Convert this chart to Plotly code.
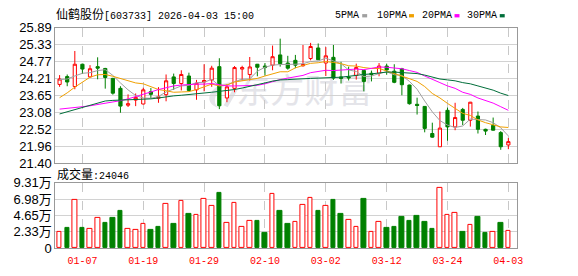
import plotly.graph_objects as go

# ---------------- data ----------------
dates = ["12-31", "01-05", "01-06", "01-07", "01-08", "01-09", "01-12", "01-13", "01-14", "01-15",
         "01-16", "01-19", "01-20", "01-21", "01-22", "01-23", "01-26", "01-27", "01-28", "01-29",
         "01-30", "02-02", "02-03", "02-04", "02-05", "02-06", "02-09", "02-10", "02-11", "02-12",
         "02-13", "02-24", "02-25", "02-26", "02-27", "03-02", "03-03", "03-04", "03-05", "03-06",
         "03-09", "03-10", "03-11", "03-12", "03-13", "03-16", "03-17", "03-18", "03-19", "03-20",
         "03-23", "03-24", "03-25", "03-26", "03-27", "03-30", "03-31", "04-01", "04-02", "04-03"]

open_ = [24.01, 24.27, 23.94, 24.68, 24.26, 24.60, 24.54, 24.21, 23.88, 23.32,
         23.49, 23.36, 23.77, 23.55, 23.67, 24.26, 24.04, 24.29, 23.83, 24.09,
         24.16, 24.60, 23.56, 23.88, 24.52, 24.34, 24.68, 24.62, 24.65, 24.99,
         24.72, 24.81, 24.63, 24.87, 25.22, 24.72, 24.91, 24.26, 24.26, 24.31,
         24.47, 24.38, 24.38, 24.62, 24.45, 24.53, 23.99, 23.35, 23.28, 22.38,
         21.94, 23.15, 22.60, 23.18, 22.82, 22.96, 22.52, 22.65, 22.41, 22.00]
high = [24.32, 24.34, 25.12, 24.70, 24.65, 24.91, 24.56, 24.23, 23.95, 23.68,
        23.71, 23.90, 23.89, 23.92, 24.34, 24.37, 24.48, 24.40, 24.16, 24.68,
        24.63, 24.88, 24.02, 24.62, 24.63, 24.92, 24.69, 24.72, 25.30, 25.53,
        24.96, 24.99, 25.32, 25.39, 25.37, 25.25, 25.32, 24.76, 24.60, 24.70,
        24.50, 24.47, 24.72, 24.70, 24.68, 24.56, 24.00, 23.57, 23.29, 22.74,
        23.11, 23.24, 23.40, 23.23, 23.43, 23.11, 22.54, 22.91, 22.46, 22.23]
low = [23.93, 23.95, 23.85, 24.36, 24.24, 24.18, 23.87, 23.67, 23.07, 23.26,
       23.29, 23.35, 23.55, 23.40, 23.45, 23.83, 23.81, 23.78, 23.50, 23.78,
       23.93, 23.19, 23.42, 23.75, 24.14, 24.14, 24.28, 24.30, 24.48, 24.60,
       24.50, 24.55, 24.60, 24.81, 24.82, 24.29, 24.16, 24.04, 24.14, 24.17,
       23.78, 24.11, 24.28, 24.33, 24.05, 23.65, 23.34, 23.01, 22.42, 22.24,
       21.94, 22.14, 22.49, 22.66, 22.61, 22.38, 22.33, 22.48, 21.84, 21.86]
close = [24.19, 24.09, 24.68, 24.52, 24.53, 24.55, 24.24, 23.72, 23.29, 23.37,
         23.58, 23.83, 23.68, 23.60, 24.13, 24.04, 24.34, 23.81, 24.05, 24.14,
         24.55, 23.30, 23.93, 24.57, 24.57, 24.59, 24.58, 24.57, 24.93, 24.70,
         24.55, 24.65, 24.67, 25.27, 24.83, 24.96, 24.22, 24.21, 24.23, 24.57,
         24.11, 24.34, 24.62, 24.49, 24.08, 24.00, 23.37, 23.31, 22.55, 22.26,
         22.56, 22.60, 22.91, 22.82, 23.42, 22.52, 22.46, 22.49, 21.94, 22.11]

ma5 = [24.17, 24.19, 24.29, 24.38, 24.40, 24.47, 24.50, 24.31, 24.06, 23.83,
       23.64, 23.56, 23.55, 23.61, 23.76, 23.86, 23.96, 23.98, 24.07, 24.08,
       24.18, 23.97, 23.99, 24.10, 24.18, 24.19, 24.45, 24.58, 24.65, 24.67,
       24.67, 24.68, 24.70, 24.77, 24.79, 24.88, 24.79, 24.70, 24.49, 24.44,
       24.27, 24.29, 24.37, 24.43, 24.33, 24.31, 24.11, 23.85, 23.46, 23.10,
       22.81, 22.66, 22.58, 22.63, 22.86, 22.85, 22.83, 22.74, 22.57, 22.30]
ma10 = [23.57, 23.73, 23.92, 24.10, 24.25, 24.33, 24.34, 24.28, 24.20, 24.12,
        24.06, 24.03, 23.93, 23.84, 23.80, 23.75, 23.76, 23.77, 23.84, 23.92,
        24.02, 23.96, 23.99, 24.09, 24.13, 24.19, 24.21, 24.29, 24.37, 24.43,
        24.43, 24.56, 24.64, 24.71, 24.73, 24.77, 24.74, 24.70, 24.63, 24.62,
        24.57, 24.54, 24.54, 24.46, 24.38, 24.29, 24.20, 24.11, 23.94, 23.71,
        23.56, 23.38, 23.21, 23.05, 22.98, 22.83, 22.74, 22.66, 22.60, 22.58]
ma20 = [23.19, 23.21, 23.24, 23.27, 23.30, 23.34, 23.38, 23.42, 23.47, 23.53,
        23.60, 23.68, 23.76, 23.84, 23.91, 23.96, 23.99, 24.01, 24.02, 24.02,
        24.04, 24.00, 23.96, 23.96, 23.96, 23.97, 23.98, 24.03, 24.11, 24.17,
        24.22, 24.26, 24.31, 24.40, 24.43, 24.48, 24.47, 24.49, 24.50, 24.52,
        24.50, 24.55, 24.59, 24.58, 24.56, 24.53, 24.47, 24.41, 24.29, 24.17,
        24.07, 23.96, 23.88, 23.75, 23.68, 23.56, 23.47, 23.39, 23.27, 23.15]
ma30 = [23.03, 23.10, 23.17, 23.24, 23.32, 23.40, 23.46, 23.48, 23.49, 23.50,
        23.50, 23.51, 23.53, 23.56, 23.60, 23.63, 23.65, 23.67, 23.70, 23.72,
        23.75, 23.78, 23.80, 23.84, 23.89, 23.94, 24.00, 24.06, 24.12, 24.16,
        24.17, 24.19, 24.19, 24.21, 24.22, 24.23, 24.23, 24.25, 24.28, 24.32,
        24.34, 24.36, 24.39, 24.42, 24.42, 24.41, 24.38, 24.37, 24.32, 24.25,
        24.19, 24.16, 24.13, 24.07, 24.03, 23.96, 23.89, 23.82, 23.72, 23.64]

# volume in 万手
volume = [2.25, 2.83, 6.88, 2.83, 2.79, 4.27, 3.64, 4.32, 5.26, 2.79,
          2.65, 3.46, 2.56, 3.10, 6.30, 3.51, 6.75, 4.86, 4.68, 6.97,
          6.03, 7.83, 3.60, 6.43, 3.06, 3.87, 3.91, 2.16, 7.78, 5.26,
          3.51, 3.73, 6.16, 7.11, 5.26, 6.03, 6.88, 4.86, 4.00, 2.97,
          7.02, 2.25, 3.73, 2.83, 3.10, 4.45, 3.91, 4.59, 3.78, 2.70,
          8.59, 4.68, 5.08, 2.29, 3.33, 4.45, 2.16, 2.25, 3.64, 2.4046]

tick_dates = ["01-07", "01-19", "01-29", "02-10", "03-02", "03-12", "03-24", "04-03"]
price_ticks = [21.40, 21.96, 22.52, 23.08, 23.65, 24.21, 24.77, 25.33, 25.89]
vol_ticks = [0, 2.33, 4.65, 6.98, 9.31]
vol_tick_text = ["0", "2.33万", "4.65万", "6.98万", "9.31万"]
ma_names = ["5PMA", "10PMA", "20PMA", "30PMA"]

stock_title = "仙鹤股份"
stock_code = "[603733]"
stamp = "2026-04-03 15:00"
watermark = "东方财富"

# ---------------- styling ----------------
W, H = 578, 276
RED = "#ff0000"
GREEN = "#008000"
MA_COLORS = ["#a0a0a0", "#f0a000", "#ff00ff", "#006e3a"]
FRAME = "#999999"
GRID = "#d2d2d2"
WM = "#e4e4e9"


def px_x(x):
    return x / W


def px_y(y):
    return 1 - y / H


x_dom = [px_x(56), px_x(522.3)]
price_dom = [px_y(165), px_y(22)]
vol_dom = [px_y(255), px_y(186)]
x_range = [-0.55, len(dates) - 1 + 1.12]

fig = go.Figure()

fig.add_trace(go.Candlestick(
    x=dates, open=open_, high=high, low=low, close=close,
    increasing=dict(line=dict(color=RED, width=1), fillcolor="white"),
    decreasing=dict(line=dict(color=GREEN, width=1), fillcolor=GREEN),
    whiskerwidth=0, xaxis="x", yaxis="y", showlegend=False, hoverinfo="skip",
))

for name, vals, col in zip(ma_names, [ma5, ma10, ma20, ma30], MA_COLORS):
    fig.add_trace(go.Scatter(x=dates, y=vals, mode="lines", name=name,
                             line=dict(color=col, width=1), xaxis="x", yaxis="y",
                             showlegend=False, hoverinfo="skip"))

up = []
for i, c in enumerate(close):
    prev = close[i - 1] if i > 0 else open_[i]
    up.append(c >= prev)
fill_cols = ["white" if u else GREEN for u in up]
line_cols = [RED if u else GREEN for u in up]

fig.add_trace(go.Bar(x=dates, y=volume, width=0.6,
                     marker=dict(color=fill_cols, line=dict(color=line_cols, width=1)),
                     xaxis="x2", yaxis="y2", showlegend=False, hoverinfo="skip"))

common_x = dict(type="category", domain=x_dom, range=x_range, tickvals=tick_dates,
                showgrid=True, gridcolor="#c8c8c8", griddash="dash", gridwidth=1,
                showline=True, mirror=True, linecolor=FRAME, linewidth=1,
                zeroline=False, ticks="", fixedrange=True)

fig.update_layout(
    width=W, height=H,
    margin=dict(l=0, r=0, t=0, b=0, pad=0),
    paper_bgcolor="white", plot_bgcolor="white",
    boxgap=0.4,
    bargap=0,
    xaxis=dict(**common_x, anchor="y", showticklabels=False,
               rangeslider=dict(visible=False)),
    yaxis=dict(domain=price_dom, range=[price_ticks[0], price_ticks[-1]],
               tickvals=price_ticks, ticktext=["%.2f" % v for v in price_ticks],
               showgrid=True, gridcolor=GRID, gridwidth=1, zeroline=False,
               showline=True, mirror=True, linecolor=FRAME, linewidth=1,
               ticks="", anchor="x",
               tickfont=dict(family="Liberation Sans, Arial", size=13, color="#000000")),
    xaxis2=dict(**common_x, anchor="y2", showticklabels=True,
                ticktext=tick_dates, ticklabelstandoff=3,
                tickfont=dict(family="Liberation Mono, monospace", size=10, color=RED)),
    yaxis2=dict(domain=vol_dom, range=[vol_ticks[0], vol_ticks[-1]],
                tickvals=vol_ticks, ticktext=vol_tick_text,
                showgrid=True, gridcolor=GRID, gridwidth=1, zeroline=False,
                showline=True, mirror=True, linecolor=FRAME, linewidth=1,
                ticks="", anchor="x2",
                tickfont=dict(family="Liberation Sans, Noto Sans CJK SC", size=13, color="#000000")),
)

annots = []
annots.append(dict(
    text='<span style="font-size:12px">%s</span>%s %s' % (stock_title, stock_code, stamp),
    x=px_x(56), y=px_y(8.5), xref="paper", yref="paper", xanchor="left", yanchor="middle",
    showarrow=False, borderpad=0,
    font=dict(family="Liberation Mono, Noto Sans CJK SC", size=10, color="#000000")))
annots.append(dict(
    text='<span style="font-size:12px">成交量</span>:%d' % round(volume[-1] * 10000),
    x=px_x(57), y=px_y(178), xref="paper", yref="paper", xanchor="left", yanchor="middle",
    showarrow=False, borderpad=0,
    font=dict(family="Liberation Mono, Noto Sans CJK SC", size=10, color="#000000")))

leg_text_x = [337.5, 379.5, 425.2, 471.2]
leg_box_x = [366, 413.3, 459.3, 505]
shapes = []
for name, col, tx, bx in zip(ma_names, MA_COLORS, leg_text_x, leg_box_x):
    annots.append(dict(text=name, x=px_x(tx), y=px_y(9), xref="paper", yref="paper",
                       xanchor="left", yanchor="middle", showarrow=False, borderpad=0,
                       font=dict(family="Liberation Mono, monospace", size=10, color="#000000")))
    shapes.append(dict(type="rect", xref="paper", yref="paper",
                       x0=px_x(bx), x1=px_x(bx + 5), y0=px_y(11), y1=px_y(7.5),
                       line=dict(width=0), fillcolor=col))

# watermark text
shapes.append(dict(type="rect", xref="paper", yref="paper", layer="between",
                   x0=px_x(237), x1=px_x(378), y0=px_y(108), y1=px_y(74),
                   line=dict(width=0), fillcolor="rgba(0,0,0,0)",
                   label=dict(text=watermark, textposition="middle center",
                              font=dict(family="Noto Sans CJK SC", size=34, color=WM))))

# watermark logo (crescent swoosh)
def P(x, y):
    return "%.5f,%.5f" % (px_x(x), px_y(y))

logo_path = ("M " + P(236, 79) +
             " C " + P(214, 80) + " " + P(202, 100) + " " + P(221, 107) +
             " C " + P(212, 99) + " " + P(220, 84) + " " + P(236, 79) + " Z")
shapes.append(dict(type="path", xref="paper", yref="paper", layer="between",
                   path=logo_path, line=dict(width=0), fillcolor=WM))
slash_path = ("M " + P(226, 104) + " L " + P(236, 86) + " L " + P(240, 88) +
              " L " + P(230, 106) + " Z")
shapes.append(dict(type="path", xref="paper", yref="paper", layer="between",
                   path=slash_path, line=dict(width=0), fillcolor=WM))

fig.update_layout(annotations=annots, shapes=shapes)

fig.write_html("out.html")
